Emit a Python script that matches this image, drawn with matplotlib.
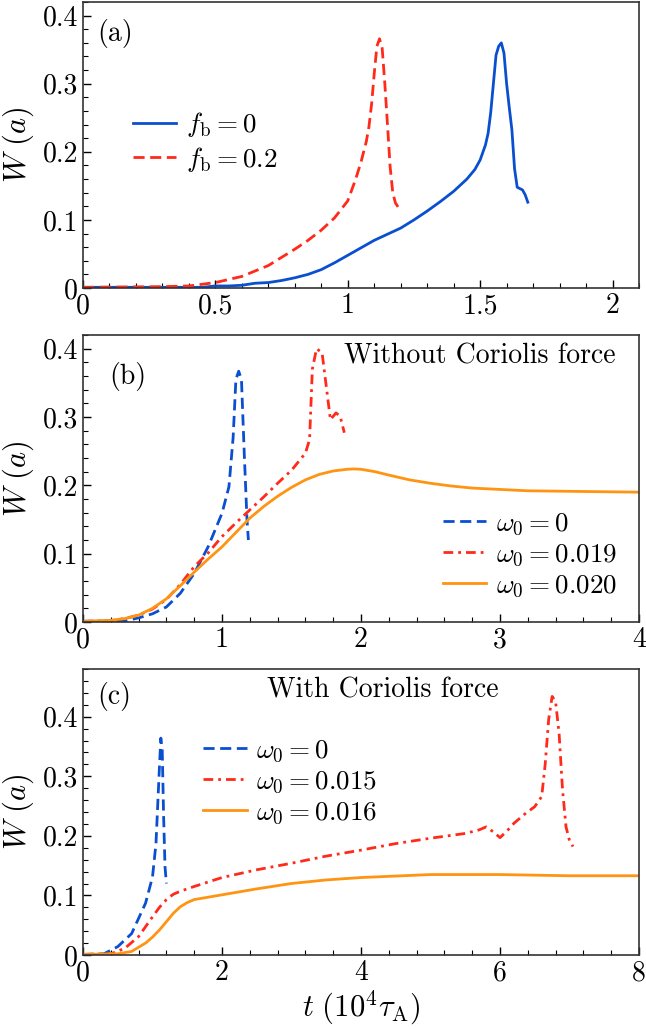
import numpy as np
import matplotlib
matplotlib.use("Agg")
import matplotlib.pyplot as plt
from matplotlib.ticker import MultipleLocator, FuncFormatter

plt.rcParams['font.family'] = 'serif'
plt.rcParams['font.serif'] = ['cmr10']
plt.rcParams['mathtext.fontset'] = 'cm'
plt.rcParams['axes.formatter.use_mathtext'] = True

# ---- Panel (a) data ----
ta_fb0 = [0, 0.3, 0.45, 0.5, 0.55, 0.6, 0.65, 0.7, 0.75, 0.8, 0.85, 0.9, 0.95, 1.0, 1.05, 1.1,
          1.15, 1.2, 1.25, 1.3, 1.35, 1.4, 1.45, 1.48, 1.5, 1.52, 1.53, 1.54, 1.55, 1.56, 1.57,
          1.58, 1.59, 1.60, 1.61, 1.62, 1.63, 1.64, 1.65, 1.66, 1.67, 1.68]
wa_fb0 = [0.001, 0.001, 0.001, 0.003, 0.003, 0.004, 0.007, 0.008, 0.011, 0.015, 0.020, 0.027,
          0.037, 0.048, 0.059, 0.070, 0.079, 0.088, 0.100, 0.113, 0.127, 0.142, 0.160, 0.174,
          0.188, 0.210, 0.227, 0.258, 0.300, 0.342, 0.355, 0.360, 0.345, 0.300, 0.265, 0.232,
          0.175, 0.148, 0.146, 0.144, 0.137, 0.126]
ta_fb2 = [0, 0.3, 0.4, 0.5, 0.6, 0.7, 0.8, 0.85, 0.9, 0.95, 1.0, 1.03, 1.05, 1.07, 1.08, 1.09,
          1.1, 1.11, 1.12, 1.13, 1.14, 1.15, 1.16, 1.17, 1.18, 1.19]
wa_fb2 = [0.001, 0.002, 0.003, 0.008, 0.017, 0.033, 0.057, 0.070, 0.085, 0.103, 0.128, 0.160,
          0.185, 0.215, 0.237, 0.270, 0.315, 0.355, 0.366, 0.352, 0.300, 0.240, 0.178, 0.140,
          0.125, 0.119]

# ---- Panel (b) data ----
tb_w0 = [0, 0.3, 0.4, 0.5, 0.6, 0.7, 0.8, 0.9, 1.0, 1.05, 1.08, 1.1, 1.12, 1.14, 1.16, 1.18, 1.19]
wb_w0 = [0.001, 0.0015, 0.006, 0.012, 0.022, 0.042, 0.071, 0.110, 0.159, 0.198, 0.270, 0.355,
         0.367, 0.355, 0.247, 0.149, 0.120]
tb_w019 = [0, 0.2, 0.3, 0.4, 0.5, 0.6, 0.7, 0.8, 0.9, 1.0, 1.1, 1.2, 1.3, 1.4, 1.5, 1.6, 1.63,
           1.65, 1.68, 1.72, 1.75, 1.78, 1.82, 1.85, 1.88]
wb_w019 = [0.001, 0.002, 0.005, 0.010, 0.019, 0.033, 0.055, 0.081, 0.101, 0.125, 0.145, 0.164,
           0.183, 0.203, 0.222, 0.247, 0.267, 0.370, 0.400, 0.394, 0.345, 0.296, 0.306, 0.301,
           0.277]
tb_w020 = [0, 0.2, 0.3, 0.4, 0.5, 0.6, 0.7, 0.8, 0.9, 1.0, 1.1, 1.2, 1.3, 1.4, 1.5, 1.6, 1.7,
           1.8, 1.9, 1.95, 2.0, 2.1, 2.2, 2.35, 2.5, 2.65, 2.8, 3.0, 3.2, 3.6, 4.0]
wb_w020 = [0.001, 0.0025, 0.005, 0.010, 0.020, 0.034, 0.053, 0.073, 0.092, 0.110, 0.131, 0.152,
           0.169, 0.184, 0.197, 0.208, 0.216, 0.221, 0.2235, 0.224, 0.2235, 0.220, 0.215, 0.208,
           0.203, 0.199, 0.196, 0.194, 0.192, 0.191, 0.190]

# ---- Panel (c) data ----
tc_w0 = [0, 0.3, 0.5, 0.7, 0.9, 1.0, 1.05, 1.1, 1.12, 1.14, 1.16, 1.18, 1.2]
wc_w0 = [0.001, 0.002, 0.014, 0.036, 0.087, 0.131, 0.187, 0.316, 0.364, 0.344, 0.232, 0.148, 0.120]
tc_w015 = [0, 0.4, 0.6, 0.8, 1.0, 1.1, 1.2, 1.3, 1.4, 1.6, 2.0, 2.5, 3.0, 3.5, 4.0, 4.5, 5.0,
           5.5, 5.7, 5.8, 5.9, 6.0, 6.1, 6.2, 6.35, 6.5, 6.6, 6.65, 6.7, 6.75, 6.8, 6.85, 6.9,
           6.95, 7.0, 7.05]
wc_w015 = [0.001, 0.002, 0.011, 0.031, 0.064, 0.080, 0.093, 0.102, 0.107, 0.115, 0.130, 0.143,
           0.154, 0.166, 0.176, 0.187, 0.196, 0.204, 0.210, 0.215, 0.207, 0.197, 0.208, 0.221,
           0.236, 0.249, 0.266, 0.320, 0.395, 0.434, 0.425, 0.372, 0.277, 0.215, 0.192, 0.182]
tc_w016 = [0, 0.5, 0.7, 0.9, 1.0, 1.1, 1.2, 1.3, 1.4, 1.5, 1.6, 1.7, 2.0, 2.5, 3.0, 3.5, 4.0,
           5.0, 6.0, 7.0, 8.0]
wc_w016 = [0.001, 0.002, 0.006, 0.020, 0.030, 0.042, 0.056, 0.070, 0.081, 0.088, 0.093, 0.095,
           0.101, 0.111, 0.120, 0.126, 0.130, 0.135, 0.135, 0.133, 0.133]

BLUE = '#0a4fd0'
RED = '#ff2a1a'
ORANGE = '#ff9412'
LW = 2.0
TICK_FS = 20
TXT_FS = 20
LEG_FS = 19.5

fig = plt.figure(figsize=(6.46, 10.30), dpi=100)
L, W = 83/646, 556/646
axa = fig.add_axes([L, 1 - 288/1030, W, 286/1030])
axb = fig.add_axes([L, 1 - 622/1030, W, 287/1030])
axc = fig.add_axes([L, 1 - 955/1030, W, 286/1030])

fmt = FuncFormatter(lambda v, p: '%g' % round(v, 6))

def style(ax, xmaj, xmin, xlim, ylim):
    ax.set_xlim(*xlim)
    ax.set_ylim(*ylim)
    ax.xaxis.set_major_locator(MultipleLocator(xmaj))
    ax.xaxis.set_minor_locator(MultipleLocator(xmin))
    ax.yaxis.set_major_locator(MultipleLocator(0.1))
    ax.yaxis.set_minor_locator(MultipleLocator(0.02))
    ax.xaxis.set_major_formatter(fmt)
    ax.yaxis.set_major_formatter(fmt)
    ax.tick_params(which='both', direction='in', labelsize=TICK_FS, top=False, right=False)
    ax.tick_params(which='major', length=6, width=1, pad=3.5)
    ax.tick_params(which='minor', length=3.5, width=0.8)
    ax.set_ylabel(r'$W\ (a)$', fontsize=22)
    ax.yaxis.set_label_coords(-0.084, 0.5)
    for s in ax.spines.values():
        s.set_linewidth(1.2)
        s.set_color('#333333')

leg_kw = dict(frameon=False, fontsize=LEG_FS, handlelength=1.6, handletextpad=0.35,
              labelspacing=0.2, borderaxespad=0)

# (a)
axa.plot(ta_fb0, wa_fb0, color=BLUE, lw=LW, label=r'$f_{\rm b}=0$')
axa.plot(ta_fb2, wa_fb2, color=RED, lw=LW, dashes=(4, 2), label=r'$f_{\rm b}=0.2$')
style(axa, 0.5, 0.1, (0, 2.1), (0, 0.42))
axa.text(0.025, 0.94, '(a)', transform=axa.transAxes, fontsize=TXT_FS, va='top', ha='left')
axa.legend(loc='center left', bbox_to_anchor=(0.07, 0.51), **leg_kw)

# (b)
axb.plot(tb_w0, wb_w0, color=BLUE, lw=LW, dashes=(4, 2), label=r'$\omega_0=0$')
axb.plot(tb_w019, wb_w019, color=RED, lw=LW, dashes=(3.5, 1.8, 1, 1.8), label=r'$\omega_0=0.019$')
axb.plot(tb_w020, wb_w020, color=ORANGE, lw=LW, label=r'$\omega_0=0.020$')
style(axb, 1, 0.2, (0, 4), (0, 0.42))
axb.text(0.047, 0.906, '(b)', transform=axb.transAxes, fontsize=TXT_FS, va='top', ha='left')
axb.text(0.958, 0.972, 'Without Coriolis force', transform=axb.transAxes, fontsize=TXT_FS,
         va='top', ha='right')
axb.legend(loc='center right', bbox_to_anchor=(0.98, 0.233), **leg_kw)

# (c)
axc.plot(tc_w0, wc_w0, color=BLUE, lw=LW, dashes=(4, 2), label=r'$\omega_0=0$')
axc.plot(tc_w015, wc_w015, color=RED, lw=LW, dashes=(3.5, 1.8, 1, 1.8), label=r'$\omega_0=0.015$')
axc.plot(tc_w016, wc_w016, color=ORANGE, lw=LW, label=r'$\omega_0=0.016$')
style(axc, 2, 0.4, (0, 8), (0, 0.48))
axc.text(0.025, 0.955, '(c)', transform=axc.transAxes, fontsize=TXT_FS, va='top', ha='left')
axc.text(0.54, 0.97, 'With Coriolis force', transform=axc.transAxes, fontsize=TXT_FS,
         va='top', ha='center')
axc.legend(loc='center left', bbox_to_anchor=(0.197, 0.605), **leg_kw)
axc.set_xlabel(r'$t\ (10^4\tau_{\rm A})$', fontsize=22, labelpad=2)

fig.savefig('out.png', dpi=100)
